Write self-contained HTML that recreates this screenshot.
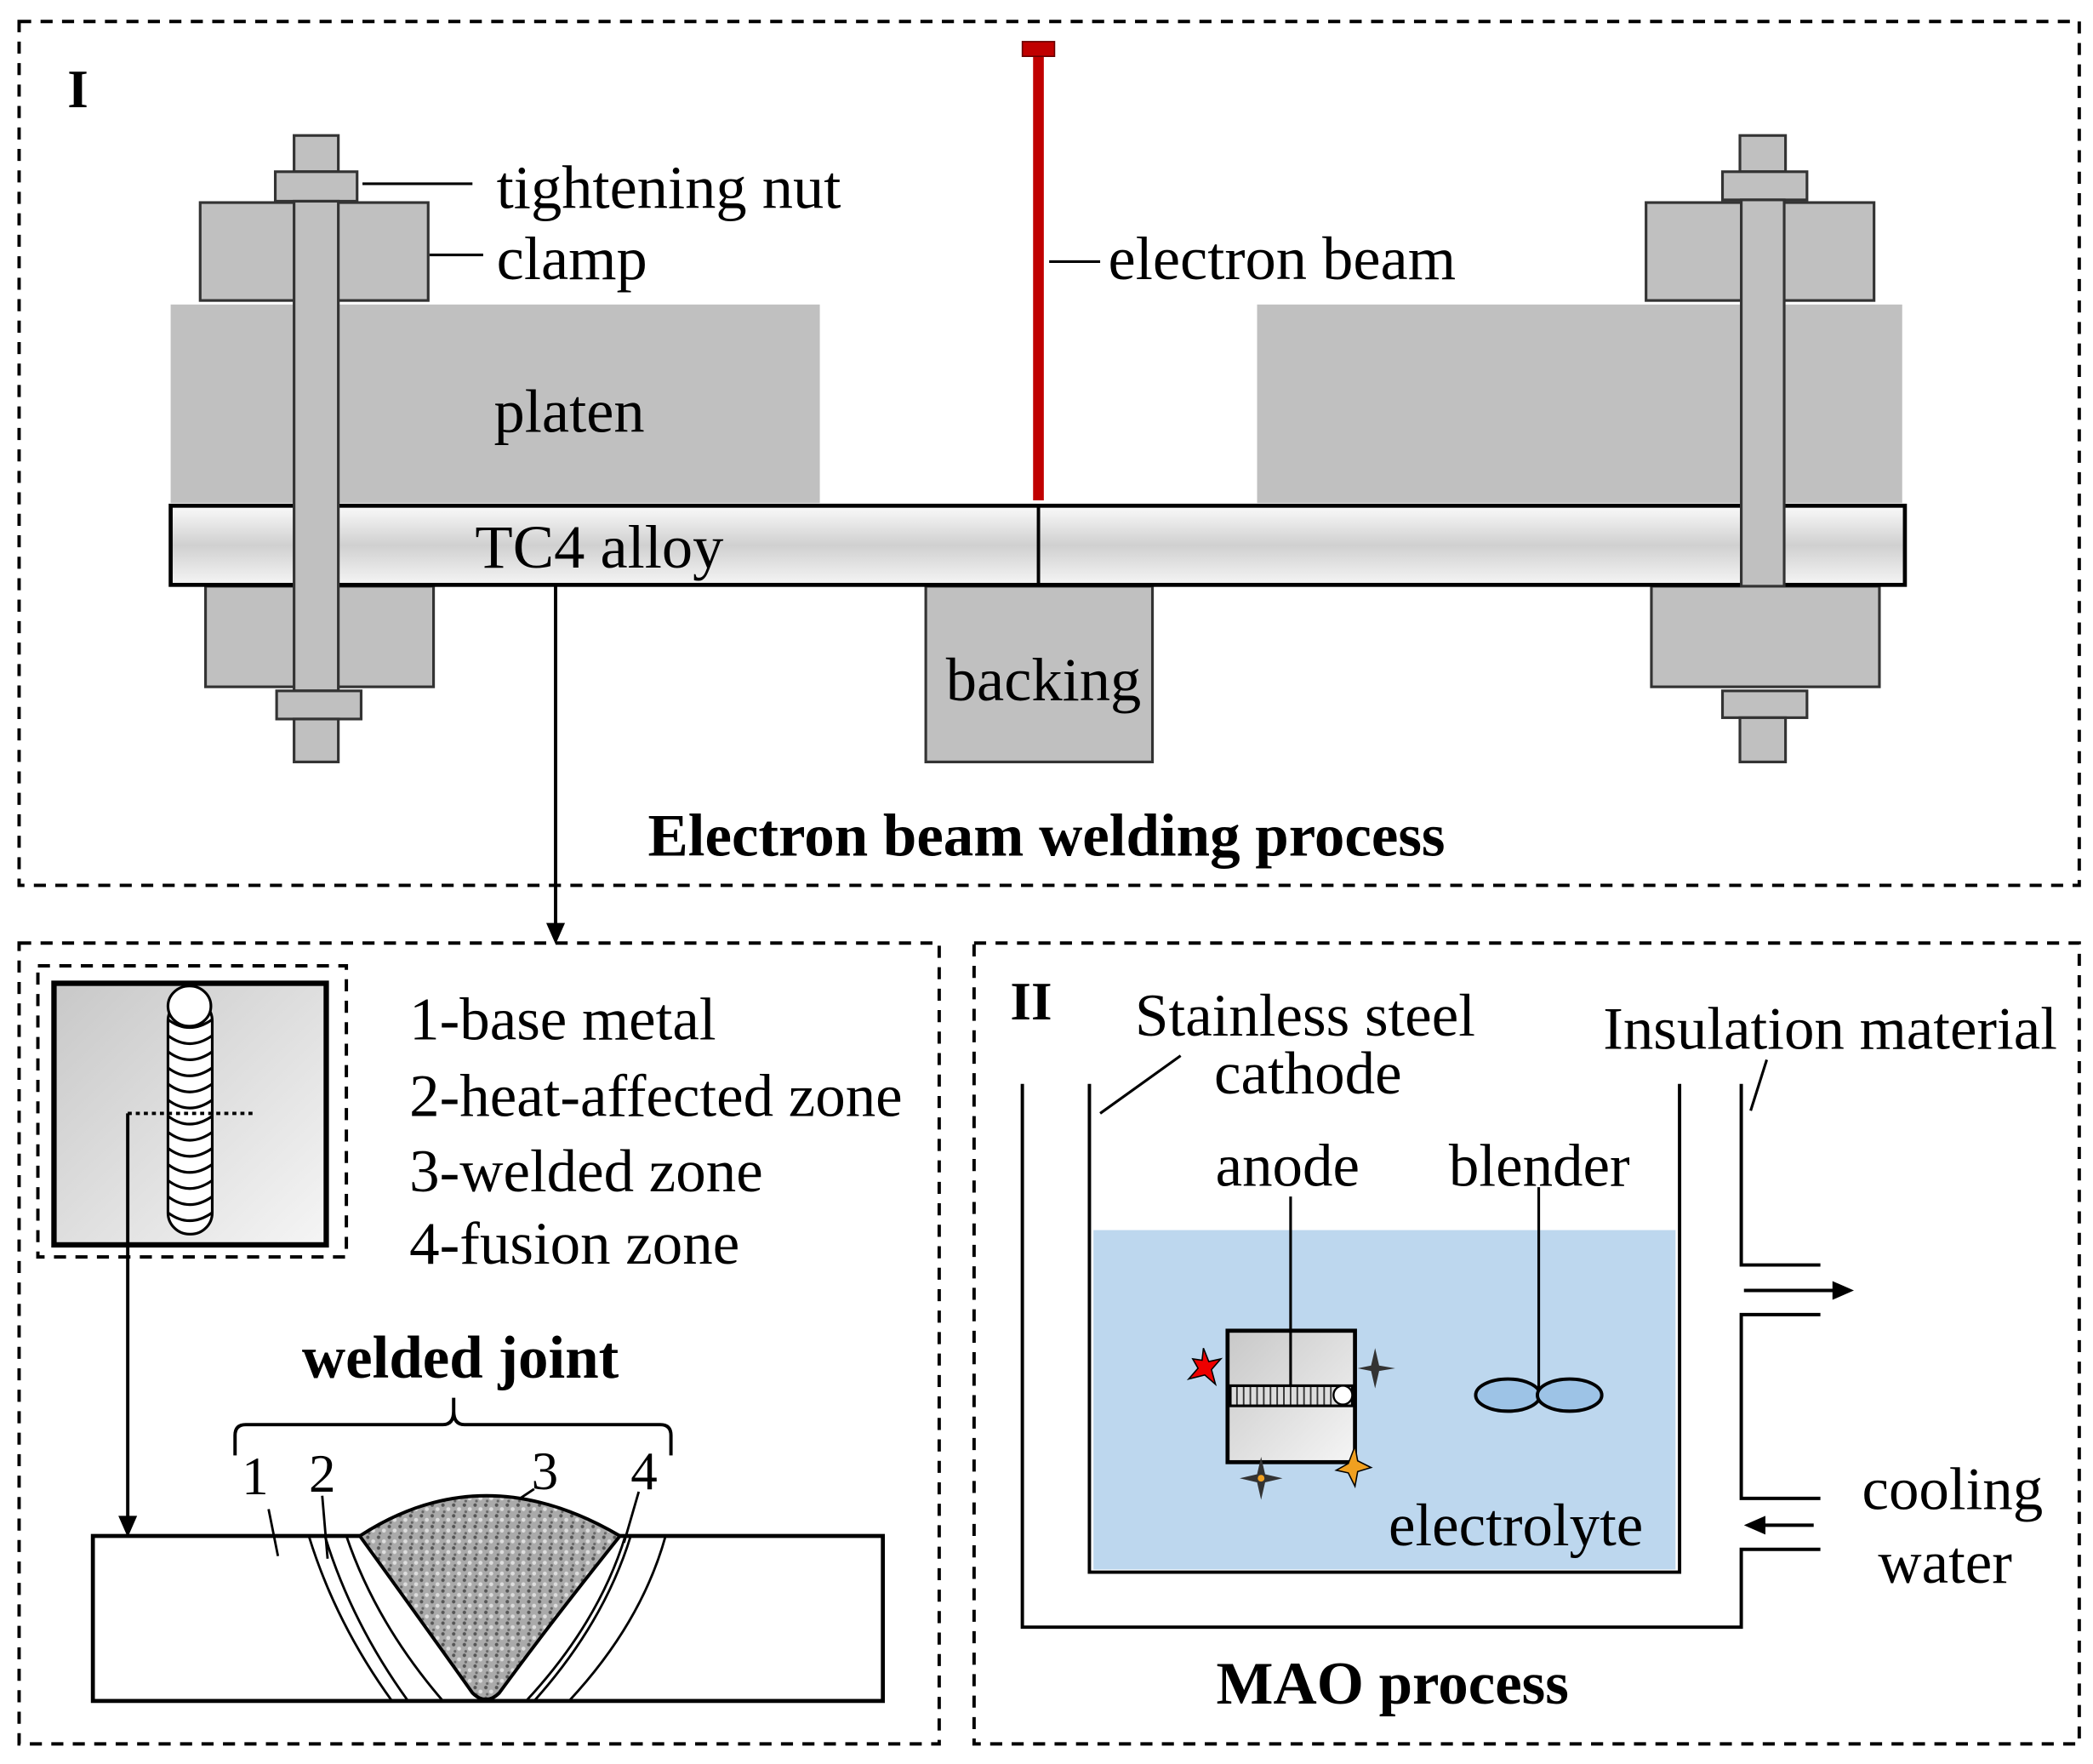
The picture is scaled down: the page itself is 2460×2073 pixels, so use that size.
<!DOCTYPE html>
<html><head><meta charset="utf-8"><style>html,body{margin:0;padding:0;background:#fff}svg{display:block}</style></head><body>
<svg width="2460" height="2073" viewBox="0 0 1560 1315" xmlns="http://www.w3.org/2000/svg" font-family="Liberation Serif, serif">
<defs>
<linearGradient id="pl" x1="0" y1="0" x2="0" y2="1"><stop offset="0" stop-color="#fafafa"/><stop offset="0.5" stop-color="#d0d0d0"/><stop offset="1" stop-color="#f5f5f5"/></linearGradient>
<linearGradient id="sq" x1="0" y1="0" x2="1" y2="1"><stop offset="0" stop-color="#c8c8c8"/><stop offset="1" stop-color="#f5f5f5"/></linearGradient>
<pattern id="gr" width="8" height="8" patternUnits="userSpaceOnUse"><rect width="8" height="8" fill="#aaa"/><circle cx="2" cy="2" r="1.3" fill="#555"/><circle cx="6" cy="5" r="1.5" fill="#ddd"/><circle cx="3" cy="7" r="1" fill="#666"/></pattern>
</defs>
<g fill="none" stroke="#000" stroke-width="2.5" stroke-dasharray="9,7">
<rect x="14" y="16" width="1536" height="644"/>
<rect x="14" y="703" width="686" height="597"/>
<rect x="726" y="703" width="824" height="597"/>
<rect x="28" y="720" width="230" height="217"/>
</g>
<text x="50" y="80" font-size="40" font-weight="bold">I</text>
<g stroke="#333" stroke-width="2" fill="#c0c0c0">
<rect x="127" y="227" width="484" height="148" stroke="none"/>
<rect x="937" y="227" width="481" height="148" stroke="none"/>
<rect x="149" y="151" width="170" height="73"/>
<rect x="1227" y="151" width="170" height="73"/>
<rect x="153" y="437" width="170" height="75"/>
<rect x="1231" y="437" width="170" height="75"/>
<rect x="690" y="437" width="169" height="131"/>
<rect x="127" y="377" width="1293" height="59" fill="url(#pl)" stroke="#000" stroke-width="3"/>
<rect x="219" y="101" width="33" height="27"/>
<rect x="205" y="128" width="61" height="22"/>
<rect x="219" y="150" width="33" height="365"/>
<rect x="206" y="515" width="63" height="21"/>
<rect x="219" y="536" width="33" height="32"/>
<rect x="1297" y="101" width="34" height="27"/>
<rect x="1284" y="128" width="63" height="21"/>
<rect x="1298" y="149" width="32" height="288"/>
<rect x="1284" y="515" width="63" height="20"/>
<rect x="1297" y="535" width="34" height="33"/>
</g>
<line x1="774" y1="377" x2="774" y2="436" stroke="#000" stroke-width="2.5"/>
<rect x="770" y="40" width="8" height="333" fill="#c00000"/>
<rect x="762" y="31" width="24" height="11" fill="#c00000" stroke="#600" stroke-width="1"/>
<g stroke="#000" stroke-width="2"><line x1="270" y1="137" x2="352" y2="137"/><line x1="320" y1="190" x2="360" y2="190"/><line x1="782" y1="195" x2="820" y2="195"/></g>
<g font-size="46"><text x="370" y="155">tightening nut</text><text x="370" y="208">clamp</text><text x="826" y="208">electron beam</text><text x="368" y="322">platen</text><text x="354" y="423">TC4 alloy</text><text x="705" y="522">backing</text></g>
<text x="780" y="638" font-size="45" font-weight="bold" text-anchor="middle">Electron beam welding process</text>
<line x1="414" y1="436" x2="414" y2="690" stroke="#000" stroke-width="2.5"/><polygon points="407,688 421,688 414,704" fill="#000"/>
<rect x="40" y="733" width="203" height="195" fill="url(#sq)" stroke="#000" stroke-width="4"/>
<g fill="#fff" stroke="#000" stroke-width="2">
<rect x="125" y="745" width="33" height="175" rx="16"/>
<path d="M125 760 q16 12 33 0 M125 772 q16 12 33 0 M125 784 q16 12 33 0 M125 796 q16 12 33 0 M125 808 q16 12 33 0 M125 820 q16 12 33 0 M125 832 q16 12 33 0 M125 844 q16 12 33 0 M125 856 q16 12 33 0 M125 868 q16 12 33 0 M125 880 q16 12 33 0 M125 892 q16 12 33 0 M125 904 q16 12 33 0" fill="none"/>
<ellipse cx="141" cy="750" rx="16" ry="15"/>
</g>
<line x1="95" y1="830" x2="188" y2="830" stroke="#000" stroke-width="2.5" stroke-dasharray="3,3"/>
<line x1="95" y1="830" x2="95" y2="1132" stroke="#000" stroke-width="2.5"/><polygon points="88,1130 102,1130 95,1146" fill="#000"/>
<g font-size="45"><text x="305" y="775">1-base metal</text><text x="305" y="832">2-heat-affected zone</text><text x="305" y="888">3-welded zone</text><text x="305" y="942">4-fusion zone</text></g>
<text x="343" y="1027" font-size="45" font-weight="bold" text-anchor="middle">welded joint</text>
<path d="M175 1085 v-15 q0 -8 8 -8 h147 q8 0 8 -10 v-10 v10 q0 10 8 10 h146 q8 0 8 8 v15" fill="none" stroke="#000" stroke-width="2.5"/>
<rect x="69" y="1145" width="589" height="123" fill="#fff" stroke="#000" stroke-width="3"/>
<g fill="none" stroke="#000" stroke-width="1.8">
<path d="M230 1145 Q250 1210 292 1268"/><path d="M242 1145 Q262 1210 304 1268"/>
<path d="M258 1145 Q280 1210 330 1268"/><path d="M496 1145 Q478 1210 424 1268"/><path d="M470 1145 Q450 1210 398 1268"/><path d="M466 1145 Q446 1210 392 1268"/>
<line x1="200" y1="1125" x2="207" y2="1160"/><line x1="240" y1="1115" x2="244" y2="1162"/><line x1="398" y1="1110" x2="365" y2="1132"/><line x1="476" y1="1112" x2="465" y2="1150"/>
</g>
<path d="M268 1145 Q360 1085 462 1145 Q410 1210 372 1262 Q362 1272 352 1262 Q315 1210 268 1145 Z" fill="url(#gr)" stroke="#000" stroke-width="2.5"/>
<g font-size="40"><text x="180" y="1114">1</text><text x="230" y="1112">2</text><text x="396" y="1110">3</text><text x="470" y="1110">4</text></g>
<text x="753" y="760" font-size="40" font-weight="bold">II</text>
<rect x="815" y="917" width="434" height="253" fill="#bdd7ee"/>
<g fill="none" stroke="#000" stroke-width="2.5">
<path d="M812 808 V1172 H1252 V808"/>
<path d="M762 808 V1213 H1298 V1155 H1357 M1357 1117 H1298 V980 H1357 M1357 943 H1298 V808"/>
<line x1="820" y1="830" x2="880" y2="787" stroke-width="2"/><line x1="1305" y1="828" x2="1317" y2="790" stroke-width="2"/>
<line x1="1300" y1="962" x2="1368" y2="962"/><line x1="1314" y1="1137" x2="1352" y2="1137"/>
</g>
<polygon points="1366,955 1382,962 1366,969" fill="#000"/><polygon points="1316,1130 1300,1137 1316,1144" fill="#000"/>
<rect x="915" y="992" width="95" height="98" fill="url(#sq)" stroke="#000" stroke-width="3"/>
<line x1="962" y1="892" x2="962" y2="1033" stroke="#000" stroke-width="2"/>
<rect x="917" y="1033" width="91" height="15" fill="#ddd" stroke="#000" stroke-width="2"/>
<path d="M922 1034v13M927 1034v13M932 1034v13M937 1034v13M942 1034v13M947 1034v13M952 1034v13M957 1034v13M962 1034v13M967 1034v13M972 1034v13M977 1034v13M982 1034v13M987 1034v13M992 1034v13" stroke="#333" stroke-width="1.2"/>
<circle cx="1001" cy="1040" r="7" fill="#fff" stroke="#000" stroke-width="1.5"/>
<line x1="1147" y1="885" x2="1147" y2="1040" stroke="#000" stroke-width="2"/>
<ellipse cx="1124" cy="1040" rx="24" ry="12" fill="#9dc3e6" stroke="#000" stroke-width="2.5"/>
<ellipse cx="1170" cy="1040" rx="24" ry="12" fill="#9dc3e6" stroke="#000" stroke-width="2.5"/>
<polygon points="897,1005 901,1015 910,1013 903,1021 906,1032 898,1025 886,1028 893,1020 889,1013 896,1014" fill="#e00" stroke="#000" stroke-width="1"/>
<polygon points="1010,1078 1012,1089 1022,1094 1012,1097 1010,1108 1005,1098 996,1096 1005,1091" fill="#f0a020" stroke="#000" stroke-width="1"/>
<polygon points="1025,1005 1028,1018 1040,1020 1028,1022 1025,1035 1022,1022 1012,1020 1022,1018" fill="#333"/>
<polygon points="940,1086 943,1099 956,1102 943,1105 940,1118 937,1105 924,1102 937,1099" fill="#333"/>
<circle cx="940" cy="1102" r="2.5" fill="#f0a020"/>
<g font-size="45"><text x="846" y="772">Stainless steel</text><text x="905" y="815">cathode</text><text x="1195" y="782">Insulation material</text><text x="906" y="884">anode</text><text x="1080" y="884">blender</text><text x="1035" y="1152">electrolyte</text><text x="1388" y="1125">cooling</text><text x="1400" y="1180">water</text></g>
<text x="1038" y="1270" font-size="45" font-weight="bold" text-anchor="middle">MAO process</text>
</svg>
</body></html>
